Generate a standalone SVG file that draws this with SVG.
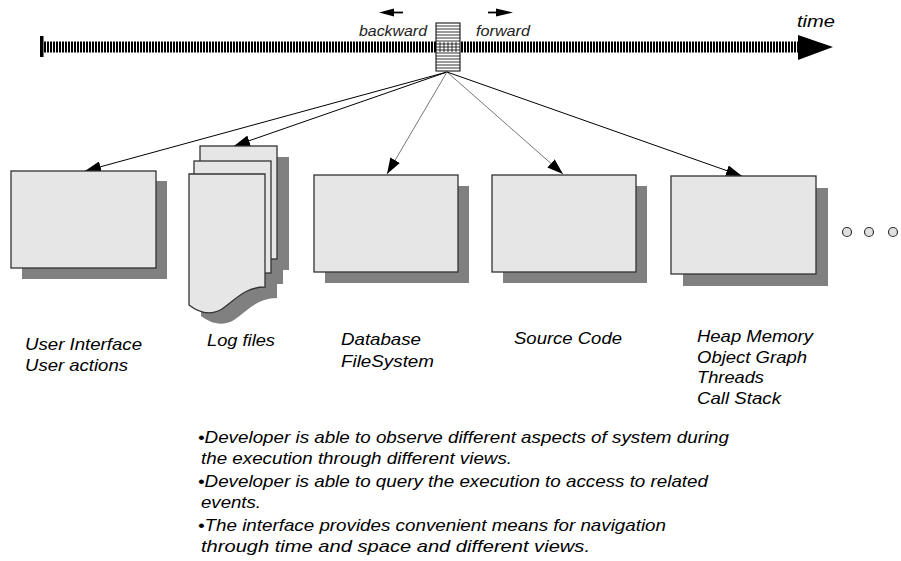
<svg xmlns="http://www.w3.org/2000/svg" width="901" height="561" viewBox="0 0 901 561">
<style>
.box{fill:#e6e6e6;stroke:#333;stroke-width:1.3}
.sh{fill:#808080}
.lbl{font-family:"Liberation Sans",Arial,sans-serif;font-style:italic;font-size:17px;fill:#000}
.small{font-family:"Liberation Sans",Arial,sans-serif;font-style:italic;font-size:14px;fill:#222}
.con{fill:none;stroke-width:1}
.dot{fill:#e0e0e0;stroke:#333;stroke-width:1.2}
</style>
<defs>
<marker id="ah" markerUnits="userSpaceOnUse" markerWidth="17" markerHeight="11" refX="16" refY="5.5" orient="auto">
<path d="M0,0 L16,5.5 L0,11 Z" fill="#000"/>
</marker>
</defs>
<rect width="901" height="561" fill="#fff"/>

<g id="timeline">
<rect x="40" y="36" width="3.5" height="21" fill="#000"/>
<line x1="44" y1="47" x2="800" y2="47" stroke="#000" stroke-width="11" stroke-dasharray="2 1"/>
<polygon points="798,35 833,47 798,60" fill="#000"/>
<text class="lbl" x="797" y="27" font-size="19" textLength="38" lengthAdjust="spacingAndGlyphs">time</text>
</g>

<g id="slider">
<rect x="436" y="23" width="24" height="48" fill="#fff" stroke="#000" stroke-width="1"/>
<g stroke="#000" stroke-width="0.8">
<line x1="436" y1="26" x2="460" y2="26"/><line x1="436" y1="29" x2="460" y2="29"/>
<line x1="436" y1="32" x2="460" y2="32"/><line x1="436" y1="35" x2="460" y2="35"/>
<line x1="436" y1="38" x2="460" y2="38"/><line x1="436" y1="41" x2="460" y2="41"/>
<line x1="436" y1="44" x2="460" y2="44"/><line x1="436" y1="47" x2="460" y2="47"/>
<line x1="436" y1="50" x2="460" y2="50"/><line x1="436" y1="53" x2="460" y2="53"/>
<line x1="436" y1="56" x2="460" y2="56"/><line x1="436" y1="59" x2="460" y2="59"/>
<line x1="436" y1="62" x2="460" y2="62"/><line x1="436" y1="65" x2="460" y2="65"/>
<line x1="436" y1="68" x2="460" y2="68"/>
<line x1="440" y1="42" x2="440" y2="52"/><line x1="444" y1="42" x2="444" y2="52"/>
<line x1="448" y1="42" x2="448" y2="52"/><line x1="452" y1="42" x2="452" y2="52"/>
<line x1="456" y1="42" x2="456" y2="52"/>
</g>
<line x1="392" y1="12.5" x2="403" y2="12.5" stroke="#000" stroke-width="1.8"/>
<polygon points="379,12.5 394,8.5 394,16.5" fill="#000"/>
<text class="small" x="359" y="36" textLength="68" lengthAdjust="spacingAndGlyphs">backward</text>
<line x1="488" y1="12.5" x2="498" y2="12.5" stroke="#000" stroke-width="1.8"/>
<polygon points="496,8.5 513,12.5 496,16.5" fill="#000"/>
<text class="small" x="476" y="36" textLength="54" lengthAdjust="spacingAndGlyphs">forward</text>
</g>

<g id="connectors">
<line class="con" x1="447" y1="72" x2="85" y2="171" stroke="#000" marker-end="url(#ah)"/>
<line class="con" x1="447" y1="72" x2="234" y2="146" stroke="#000" marker-end="url(#ah)"/>
<line class="con" x1="447" y1="72" x2="387" y2="174" stroke="#777" marker-end="url(#ah)"/>
<line class="con" x1="447" y1="72" x2="563" y2="174" stroke="#777" marker-end="url(#ah)"/>
<line class="con" x1="447" y1="72" x2="742" y2="176" stroke="#000" marker-end="url(#ah)"/>
</g>

<g id="user-interface">
<rect class="sh" x="22" y="181" width="145" height="98"/>
<rect class="box" x="11" y="171" width="145" height="97"/>
<text class="lbl" x="25" y="350" textLength="117" lengthAdjust="spacingAndGlyphs">User Interface</text>
<text class="lbl" x="25" y="371" textLength="103" lengthAdjust="spacingAndGlyphs">User actions</text>
</g>

<g id="log-files">
<rect class="sh" x="212" y="157" width="77" height="113"/>
<rect class="sh" x="206" y="172" width="77" height="112"/>
<path class="sh" d="M201,185 H277 V298 C257,298 247,311 234,320 C222,327 210,323 201,316 Z"/>
<rect class="box" x="200" y="146" width="77" height="113"/>
<rect class="box" x="194" y="161" width="77" height="112"/>
<path class="box" d="M189,174 H265 V287 C245,287 235,300 222,309 C210,316 198,312 189,305 Z"/>
<text class="lbl" x="207" y="346" textLength="68" lengthAdjust="spacingAndGlyphs">Log files</text>
</g>

<g id="database">
<rect class="sh" x="325" y="186" width="144" height="97"/>
<rect class="box" x="314" y="175" width="144" height="97"/>
<text class="lbl" x="341" y="345" textLength="80" lengthAdjust="spacingAndGlyphs">Database</text>
<text class="lbl" x="341" y="367" textLength="93" lengthAdjust="spacingAndGlyphs">FileSystem</text>
</g>

<g id="source-code">
<rect class="sh" x="503" y="186" width="144" height="97"/>
<rect class="box" x="492" y="175" width="144" height="97"/>
<text class="lbl" x="514" y="344" textLength="108" lengthAdjust="spacingAndGlyphs">Source Code</text>
</g>

<g id="heap-memory">
<rect class="sh" x="683" y="188" width="145" height="98"/>
<rect class="box" x="671" y="176" width="145" height="98"/>
<text class="lbl" x="697" y="342" textLength="116" lengthAdjust="spacingAndGlyphs">Heap Memory</text>
<text class="lbl" x="697" y="363" textLength="110" lengthAdjust="spacingAndGlyphs">Object Graph</text>
<text class="lbl" x="697" y="383" textLength="67" lengthAdjust="spacingAndGlyphs">Threads</text>
<text class="lbl" x="697" y="404" textLength="84" lengthAdjust="spacingAndGlyphs">Call Stack</text>
</g>

<g id="more">
<circle class="dot" cx="847" cy="232" r="4.5"/>
<circle class="dot" cx="869" cy="232" r="4.5"/>
<circle class="dot" cx="893" cy="232" r="4.5"/>
</g>

<g id="notes">
<text class="lbl" x="198" y="443" textLength="531" lengthAdjust="spacingAndGlyphs">•Developer is able to observe different aspects of system during</text>
<text class="lbl" x="201" y="464" textLength="311" lengthAdjust="spacingAndGlyphs">the execution through different views.</text>
<text class="lbl" x="198" y="487" textLength="510" lengthAdjust="spacingAndGlyphs">•Developer is able to query the execution to access to related</text>
<text class="lbl" x="201" y="508" textLength="60" lengthAdjust="spacingAndGlyphs">events.</text>
<text class="lbl" x="198" y="531" textLength="468" lengthAdjust="spacingAndGlyphs">•The interface provides convenient means for navigation</text>
<text class="lbl" x="201" y="552" textLength="389" lengthAdjust="spacingAndGlyphs">through time and space and different views.</text>
</g>
</svg>
